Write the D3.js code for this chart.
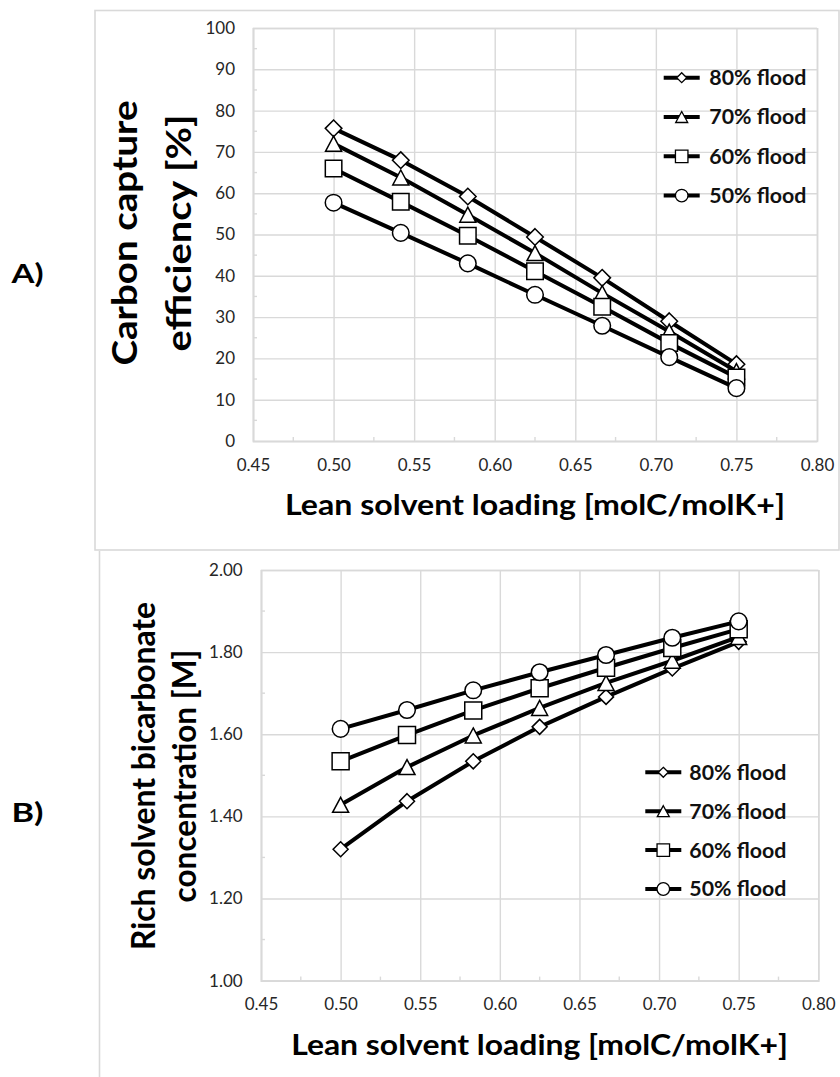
<!DOCTYPE html>
<html>
<head>
<meta charset="utf-8">
<script src="https://cdn.jsdelivr.net/npm/d3@7"></script>
<style>
  body { margin: 0; background: #fff; }
  svg { display: block; font-family: Lato, "Open Sans", sans-serif; }
</style>
</head>
<body>
<svg id="chart" width="840" height="1077"></svg>
<script>
// lean solvent loading (x) shared by both panels
const loading = [0.5, 0.5417, 0.5833, 0.625, 0.6667, 0.7083, 0.75];
const seriesNames = ["80% flood", "70% flood", "60% flood", "50% flood"];
const markerTypes = ["diamond", "triangle", "square", "circle"];

// A) carbon capture efficiency [%]
const capture80 = [75.7, 68.0, 59.2, 49.4, 39.5, 29.0, 18.6];
const capture70 = [72.0, 63.8, 54.8, 45.5, 35.8, 26.5, 16.9];
const capture60 = [66.0, 57.9, 49.7, 41.1, 32.5, 23.7, 15.4];
const capture50 = [57.7, 50.4, 43.0, 35.4, 27.9, 20.3, 12.8];

// B) rich solvent bicarbonate concentration [M]
const bicarb80 = [1.320, 1.437, 1.534, 1.618, 1.691, 1.760, 1.825];
const bicarb70 = [1.428, 1.520, 1.597, 1.664, 1.725, 1.779, 1.837];
const bicarb60 = [1.534, 1.598, 1.658, 1.712, 1.762, 1.810, 1.856];
const bicarb50 = [1.613, 1.659, 1.707, 1.751, 1.793, 1.835, 1.875];

// tick labels
const xTicks = [0.45, 0.50, 0.55, 0.60, 0.65, 0.70, 0.75, 0.80];
const xMinor = [0.475, 0.525, 0.575, 0.625, 0.675, 0.725, 0.775];
const captureTicks = [0, 10, 20, 30, 40, 50, 60, 70, 80, 90, 100];
const captureMinor = [5, 15, 25, 35, 45, 55, 65, 75, 85, 95];
const bicarbTicks = [1.0, 1.2, 1.4, 1.6, 1.8, 2.0];
const bicarbMinor = [1.1, 1.3, 1.5, 1.7, 1.9];

const svg = d3.select("#chart");
const GRID = "#d9d9d9";

// shape path centred on 0,0
function shape(type, s) {
  if (type === "diamond") return `M0,${-s.d}L${s.d},0L0,${s.d}L${-s.d},0Z`;
  if (type === "triangle") return `M0,${-s.th / 2}L${s.tw / 2},${s.th / 2}L${-s.tw / 2},${s.th / 2}Z`;
  if (type === "square") return `M${-s.sq / 2},${-s.sq / 2}h${s.sq}v${s.sq}h${-s.sq}Z`;
  return `M${s.c},0A${s.c},${s.c} 0 1,1 ${-s.c},0A${s.c},${s.c} 0 1,1 ${s.c},0Z`;
}

// frames around each panel
svg.append("rect")
  .attr("x", 95).attr("y", 10.5).attr("width", 744).attr("height", 539.5)
  .attr("fill", "none").attr("stroke", GRID).attr("stroke-width", 1.6);
svg.append("line")
  .attr("x1", 99.5).attr("x2", 99.5).attr("y1", 551).attr("y2", 1077)
  .attr("stroke", GRID).attr("stroke-width", 1.6);

function drawPanel(p) {
  const x = d3.scaleLinear().domain([0.45, 0.80]).range([p.left, p.right]);
  const y = d3.scaleLinear().domain(p.yDomain).range([p.bottom, p.top]);
  const g = svg.append("g");

  // x gridlines + labels
  const xa = g.append("g")
    .attr("transform", `translate(0,${p.bottom})`)
    .call(d3.axisBottom(x).tickValues(xTicks).tickFormat(d3.format(".2f"))
      .tickSize(-(p.bottom - p.top)).tickPadding(p.xPad));
  // y gridlines + labels
  const ya = g.append("g")
    .attr("transform", `translate(${p.left},0)`)
    .call(d3.axisLeft(y).tickValues(p.yTicks).tickFormat(d3.format(p.yFormat))
      .tickSize(-(p.right - p.left)).tickPadding(p.yPad));

  [xa, ya].forEach(a => {
    a.select(".domain").attr("stroke", GRID).attr("stroke-width", 1.6);
    a.selectAll(".tick line").attr("stroke", GRID).attr("stroke-width", 1.4);
    a.selectAll(".tick text").attr("fill", "#262626")
      .attr("font-size", 17).attr("font-family", "Lato, sans-serif");
  });

  // small inward minor ticks
  g.selectAll(".mx").data(xMinor).join("line")
    .attr("x1", d => x(d)).attr("x2", d => x(d))
    .attr("y1", p.bottom).attr("y2", p.bottom - 4)
    .attr("stroke", GRID).attr("stroke-width", 1.4);
  g.selectAll(".my").data(p.yMinor).join("line")
    .attr("y1", d => y(d)).attr("y2", d => y(d))
    .attr("x1", p.left).attr("x2", p.left + 4)
    .attr("stroke", GRID).attr("stroke-width", 1.4);

  // series: line then markers, in legend order
  const line = d3.line().x((d, i) => x(loading[i])).y(d => y(d));
  p.data.forEach((vals, k) => {
    g.append("path").datum(vals).attr("d", line)
      .attr("fill", "none").attr("stroke", "#000")
      .attr("stroke-width", 4).attr("stroke-linejoin", "round");
    g.selectAll(null).data(vals).join("path")
      .attr("transform", (d, i) => `translate(${x(loading[i])},${y(d)})`)
      .attr("d", shape(markerTypes[k], p.mk))
      .attr("fill", "#fff").attr("stroke", "#000").attr("stroke-width", 1.5);
  });

  // legend
  seriesNames.forEach((name, k) => {
    const ly = p.legY + k * p.legStep;
    const lg = g.append("g").attr("transform", `translate(${p.legX},${ly})`);
    lg.append("line").attr("x1", -18).attr("x2", 18)
      .attr("stroke", "#000").attr("stroke-width", 4);
    lg.append("path").attr("d", shape(markerTypes[k], { d: 5, tw: 12, th: 11, sq: 12.5, c: 6.3 }))
      .attr("fill", "#fff").attr("stroke", "#000").attr("stroke-width", 1.3);
    lg.append("text").attr("x", p.legTextX - p.legX).attr("y", 7.4)
      .attr("font-size", 20.5).attr("font-weight", "bold").attr("fill", "#111")
      .attr("textLength", 97).attr("lengthAdjust", "spacingAndGlyphs")
      .text(name);
  });

  // x title
  g.append("text")
    .attr("x", (p.left + p.right) / 2).attr("y", p.xTitleY)
    .attr("text-anchor", "middle").attr("font-size", 28).attr("font-weight", "bold")
    .attr("textLength", p.xTitleLen).attr("lengthAdjust", "spacingAndGlyphs")
    .text("Lean solvent loading [molC/molK+]");

  // y title, two lines
  p.yTitle.forEach((t, i) => {
    g.append("text")
      .attr("transform", `translate(${p.yTitleX[i]},${p.yTitleCY}) rotate(-90)`)
      .attr("text-anchor", "middle").attr("font-size", p.yTitleSize).attr("font-weight", "bold")
      .attr("textLength", p.yTitleLen[i]).attr("lengthAdjust", "spacingAndGlyphs")
      .text(t);
  });

  // panel letter
  g.append("text").attr("x", 11.5).attr("y", p.letterY)
    .attr("font-size", 27).attr("font-weight", "bold")
    .attr("textLength", 32).attr("lengthAdjust", "spacingAndGlyphs")
    .text(p.letter);
}

drawPanel({
  left: 253, right: 817, top: 28, bottom: 441,
  yDomain: [0, 100], yTicks: captureTicks, yMinor: captureMinor, yFormat: "d",
  xPad: 18, yPad: 18,
  data: [capture80, capture70, capture60, capture50],
  mk: { d: 8.3, tw: 16, th: 15, sq: 16.5, c: 8.3 },
  legX: 681.7, legTextX: 709.3, legY: 77.7, legStep: 39.3,
  xTitleY: 515, xTitleLen: 500,
  yTitle: ["Carbon capture", "efficiency [%]"], yTitleX: [137, 191], yTitleCY: 233,
  yTitleLen: [265, 237], yTitleSize: 34,
  letter: "A)", letterY: 283
});

drawPanel({
  left: 261, right: 818.3, top: 570, bottom: 980.6,
  yDomain: [1, 2], yTicks: bicarbTicks, yMinor: bicarbMinor, yFormat: ".2f",
  xPad: 17.7, yPad: 18.3,
  data: [bicarb80, bicarb70, bicarb60, bicarb50],
  mk: { d: 7.5, tw: 16, th: 15, sq: 17, c: 8.3 },
  legX: 663.3, legTextX: 689.3, legY: 772.3, legStep: 38.9,
  xTitleY: 1055, xTitleLen: 497,
  yTitle: ["Rich solvent bicarbonate", "concentration [M]"], yTitleX: [155, 196], yTitleCY: 776,
  yTitleLen: [348, 253], yTitleSize: 32,
  letter: "B)", letterY: 822
});
</script>
</body>
</html>
